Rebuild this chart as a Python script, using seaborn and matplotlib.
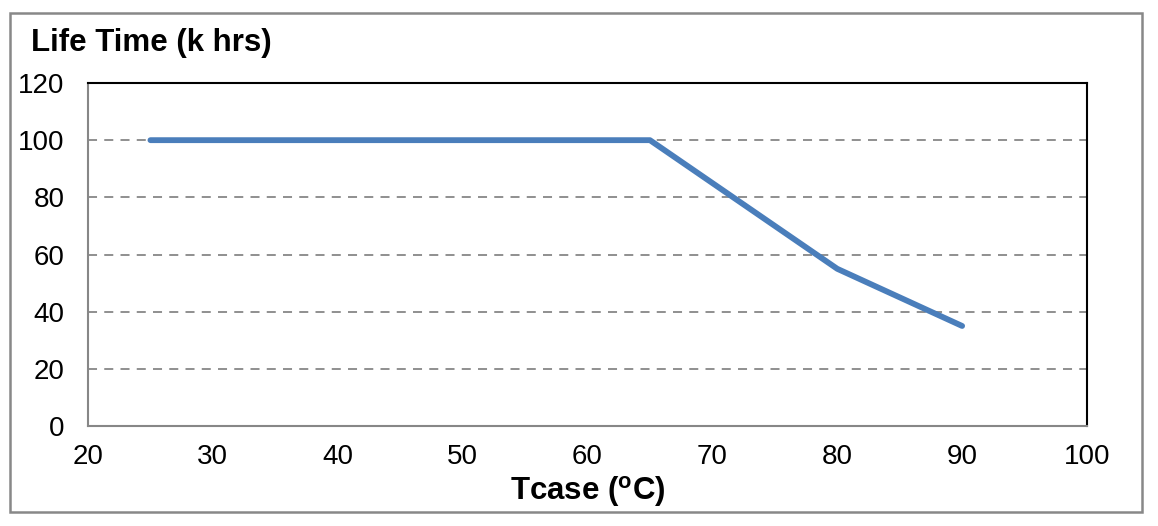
import numpy as np
import pandas as pd
import matplotlib
matplotlib.use("Agg")
import matplotlib.pyplot as plt
import seaborn as sns
from matplotlib.patches import Rectangle

# data
tcase = [25, 65, 80, 90]
life_k_hrs = [100, 100, 55, 35]
x_ticks = [20, 30, 40, 50, 60, 70, 80, 90, 100]
y_ticks = [0, 20, 40, 60, 80, 100, 120]

sns.set_style("white")
plt.rcParams["font.family"] = ["Liberation Sans", "DejaVu Sans"]
plt.rcParams["text.color"] = "black"
plt.rcParams["mathtext.fontset"] = "custom"
plt.rcParams["mathtext.rm"] = "Liberation Sans:bold"
plt.rcParams["mathtext.bf"] = "Liberation Sans:bold"

df = pd.DataFrame({"Tcase": tcase, "Life": life_k_hrs})

fig = plt.figure(figsize=(11.58, 5.26), dpi=100)
ax = fig.add_axes([88 / 1158, 1 - 426 / 526, (1087 - 88) / 1158, (426 - 83) / 526])

grid_col = "#878787"
for v in y_ticks[1:-1]:
    ax.axhline(v, color=grid_col, lw=1.3, ls=(0, (5, 4)), zorder=1)

sns.lineplot(data=df, x="Tcase", y="Life", ax=ax, color="#4a7ebb", lw=4.2,
             solid_capstyle="round", zorder=3)

ax.set_xlim(20, 100)
ax.set_ylim(0, 120)
ax.set_xticks(x_ticks)
ax.set_yticks(y_ticks)
ax.tick_params(axis="both", direction="out", length=6, width=1.2, color=grid_col,
               labelsize=20, labelcolor="black")
ax.tick_params(axis="y", pad=11)
ax.tick_params(axis="x", pad=7)
ax.set_xlabel("")
ax.set_ylabel("")

for s in ["left", "bottom"]:
    ax.spines[s].set_color(grid_col)
    ax.spines[s].set_linewidth(1.5)
for s in ["top", "right"]:
    ax.spines[s].set_color("black")
    ax.spines[s].set_linewidth(1.5)

fig.text(31 / 1158, 1 - 43 / 526, "Life Time (k hrs)", fontsize=22.5, fontweight="bold",
         color="black", ha="left", va="center")
fig.text(588 / 1158, 1 - 491 / 526, r"Tcase ($^{\mathrm{o}}$C)", fontsize=22.5,
         fontweight="bold", color="black", ha="center", va="center")

# outer gray frame
fig.patches.append(Rectangle((10 / 1158, 1 - 512 / 526), (1142 - 10) / 1158, (512 - 13) / 526,
                             transform=fig.transFigure, fill=False, edgecolor="#888888", lw=1.8))

fig.savefig("out.png", dpi=100)
